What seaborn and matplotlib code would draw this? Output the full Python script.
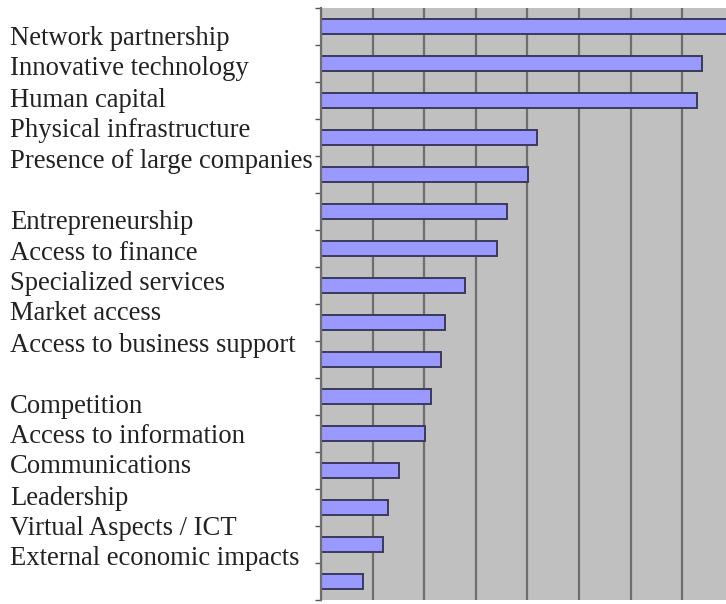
import numpy as np
import pandas as pd
import matplotlib
matplotlib.use("Agg")
import matplotlib.pyplot as plt
import seaborn as sns

categories = [
    "Network partnership", "Innovative technology", "Human capital",
    "Physical infrastructure", "Presence of large companies",
    "Entrepreneurship", "Access to finance", "Specialized services",
    "Market access", "Access to business support",
    "Competition", "Access to information", "Communications",
    "Leadership", "Virtual Aspects / ICT", "External economic impacts",
]
values = [7.9, 7.38, 7.29, 4.19, 4.01, 3.60, 3.41, 2.79, 2.40, 2.33,
          2.13, 2.02, 1.51, 1.30, 1.20, 0.81]

# label baselines in pixels from top (layout only)
label_baselines = [45, 75, 107, 137, 168, 229, 260, 290, 320, 352,
                   413, 443, 473, 505, 535, 565]

W, H = 726, 604
sns.set_style("white")
plt.rcParams['font.family'] = ['Liberation Serif', 'DejaVu Serif']

fig = plt.figure(figsize=(W / 100, H / 100), dpi=100)
ax = fig.add_axes([321 / W, 1 - 600 / H, 1 - 321 / W, (600 - 8) / H])

df = pd.DataFrame({"cat": categories, "val": values})
sns.barplot(data=df, x="val", y="cat", orient="h", ax=ax, color="#9999FF",
            saturation=1, width=0.38, edgecolor="#3a3a5c", linewidth=1.4)

ax.set_facecolor("#C0C0C0")
ax.set_xlim(0, 7.85)
ax.set_ylim(15.5, -0.5)
ax.set_xticks(np.arange(0, 8, 1))
ax.set_xticklabels([])
ax.set_yticks(np.arange(-0.5, 16, 1))
ax.set_yticklabels([])
ax.set_xlabel("")
ax.set_ylabel("")
ax.grid(axis="x", color="#6e6e6e", linewidth=1.6)
ax.set_axisbelow(True)
ax.tick_params(axis="y", left=True, length=4, width=1, color="#555555", direction="out")
ax.tick_params(axis="x", bottom=False, length=0)
for s in ["top", "right", "bottom"]:
    ax.spines[s].set_visible(False)
ax.spines["left"].set_color("#6e6e6e")
ax.spines["left"].set_linewidth(1.6)

for lab, yb in zip(categories, label_baselines):
    fig.text(10 / W, 1 - yb / H, lab, fontsize=19.2, color="#222222",
             ha="left", va="baseline")

fig.savefig("out.png", dpi=100, facecolor="white")
